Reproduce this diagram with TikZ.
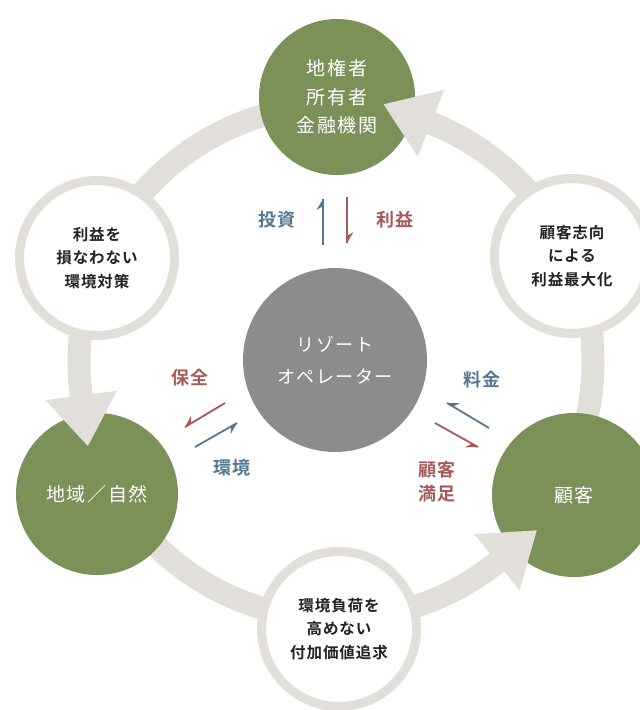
\documentclass[tikz,border=0pt]{standalone}
\usepackage{fontspec}
\setmainfont{Noto Sans CJK JP}[BoldFont={Noto Sans CJK JP Bold}]
\usetikzlibrary{arrows.meta,calc}
\definecolor{ringgray}{RGB}{226,223,219}
\definecolor{olivegreen}{RGB}{122,145,87}
\definecolor{midgray}{RGB}{140,140,140}
\definecolor{lblue}{RGB}{84,120,145}
\definecolor{lred}{RGB}{168,88,88}
\definecolor{txtdark}{RGB}{35,35,35}
\newcommand{\harpoonarrow}[4]{% color, from, to, side angle
  \draw[line width=1.8pt, #1] (#2) -- (#3);
  \fill[#1] (#3) -- ($($(#3)!11pt!(#2)$)!6.5pt!#4:(#3)$) -- ($(#3)!7pt!(#2)$) -- cycle;
}
\begin{document}
\begin{tikzpicture}[x=1pt,y=-1pt,
  greencirc/.style={circle, fill=olivegreen, text=white, minimum size=#1, inner sep=0pt, align=center},
  whitecirc/.style={circle, fill=white, draw=ringgray, line width=9pt, text=txtdark, minimum size=#1, inner sep=0pt, align=center, font=\bfseries\fontsize{15.5}{23.5}\selectfont\addfontfeatures{LetterSpace=6}},
  graycirc/.style={circle, fill=midgray, text=white, minimum size=#1, inner sep=0pt, align=center, font=\fontsize{18}{32}\selectfont\addfontfeatures{LetterSpace=8}},
  bluelbl/.style={text=lblue, font=\bfseries\fontsize{18}{24}\selectfont\addfontfeatures{LetterSpace=10}, align=center},
  redlbl/.style={text=lred, font=\bfseries\fontsize{18}{24}\selectfont\addfontfeatures{LetterSpace=10}, align=center},
  arrowhead/.style={fill=ringgray}
]
\useasboundingbox (0,0) rectangle (640,710);
\fill[white] (0,0) rectangle (640,710);
% ring
\coordinate (C) at (336,362);
\draw[ringgray, line width=23pt] (C) circle[radius=257pt];
% white circles
\node[whitecirc=155pt] (ul) at (97,258) {利益を\\損なわない\\環境対策};
\node[whitecirc=155pt] (ur) at (572,256) {顧客志向\\による\\利益最大化};
\node[whitecirc=155pt] (bt) at (339,629) {環境負荷を\\高めない\\付加価値追求};
% green circles
\node[greencirc=156pt, font=\fontsize{19}{28.5}\selectfont\addfontfeatures{LetterSpace=8}] (top) at (337,97) {地権者\\所有者\\金融機関};
\node[greencirc=162pt, font=\fontsize{19}{28}\selectfont\addfontfeatures{LetterSpace=8}] (left) at (97,494) {地域／自然};
\node[greencirc=164pt, font=\fontsize{19}{28}\selectfont\addfontfeatures{LetterSpace=10}] (right) at (574,495) {顧客};
% center
\node[graycirc=184pt] (ctr) at (335,360) {リゾート\\オペレーター};
% arrowheads of the ring
\begin{scope}[shift={(C)}, rotate=68.3]
  \fill[arrowhead] (221pt,0pt) -- (293pt,0pt) -- (257pt,51pt) -- cycle;
\end{scope}
\begin{scope}[shift={(C)}, rotate=187.5]
  \fill[arrowhead] (221pt,0pt) -- (293pt,0pt) -- (257pt,51pt) -- cycle;
\end{scope}
\begin{scope}[shift={(C)}, rotate=-51.2]
  \fill[arrowhead] (221pt,0pt) -- (293pt,0pt) -- (257pt,51pt) -- cycle;
\end{scope}
% small harpoon arrows
\coordinate (inv1) at (323,245); \coordinate (inv2) at (323,199);
\coordinate (pro1) at (347,197); \coordinate (pro2) at (347,243);
\coordinate (hoz1) at (225,403); \coordinate (hoz2) at (185,427);
\coordinate (env1) at (195,447); \coordinate (env2) at (237,423);
\coordinate (fee1) at (489,428); \coordinate (fee2) at (447,403);
\coordinate (sat1) at (435,423); \coordinate (sat2) at (478,447);
\harpoonarrow{lblue}{inv1}{inv2}{90}
\harpoonarrow{lred}{pro1}{pro2}{90}
\harpoonarrow{lred}{hoz1}{hoz2}{-90}
\harpoonarrow{lblue}{env1}{env2}{-90}
\harpoonarrow{lblue}{fee1}{fee2}{-90}
\harpoonarrow{lred}{sat1}{sat2}{-90}
% labels
\node[bluelbl] (lbinv) at (277,220) {投資};
\node[redlbl] (lbpro) at (395,220) {利益};
\node[redlbl] (lbhoz) at (190,378) {保全};
\node[bluelbl] (lbenv) at (232,468) {環境};
\node[bluelbl] (lbfee) at (482,380) {料金};
\node[redlbl] (lbsat) at (437,482) {顧客\\満足};
\end{tikzpicture}
\end{document}
